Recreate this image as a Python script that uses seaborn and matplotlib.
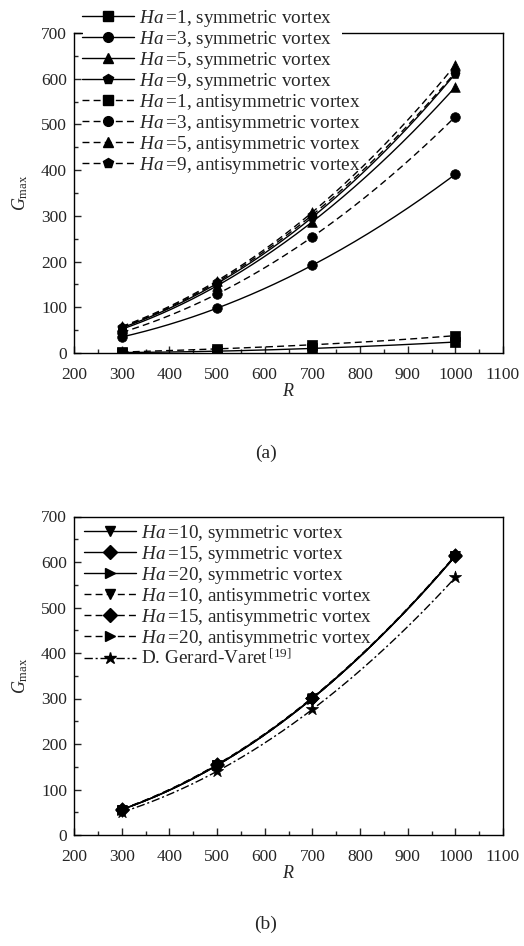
import numpy as np
import pandas as pd
import matplotlib
matplotlib.use("Agg")
import matplotlib.pyplot as plt
from matplotlib.lines import Line2D
from matplotlib.patches import Rectangle
from matplotlib.ticker import MultipleLocator
import seaborn as sns

# ---------------- data ----------------
R = [300, 500, 700, 1000]

# panel (a)
ha_a = ["1", "3", "5", "9"]
sym_a = {
    "1": [1, 4, 10, 24],
    "3": [35, 98, 192, 391],
    "5": [52, 147, 287, 582],
    "9": [55, 152, 297, 611],
}
anti_a = {
    "1": [2, 9, 18, 38],
    "3": [45, 129, 254, 517],
    "5": [58, 158, 308, 630],
    "9": [56, 155, 302, 614],
}
markers_a = {"1": "s", "3": "o", "5": "^", "9": "p"}

# panel (b)
ha_b = ["10", "15", "20"]
sym_b = {
    "10": [56, 153, 300, 613],
    "15": [56, 154, 301, 614],
    "20": [56, 153, 300, 613],
}
anti_b = {
    "10": [56, 154, 301, 614],
    "15": [57, 155, 302, 615],
    "20": [56, 153, 300, 613],
}
markers_b = {"10": "v", "15": "D", "20": ">"}
gerard = [50, 140, 276, 566]

x_ticks = [200, 300, 400, 500, 600, 700, 800, 900, 1000, 1100]
y_ticks = [0, 100, 200, 300, 400, 500, 600, 700]

# ---------------- style ----------------
sns.set_style("ticks")
plt.rcParams["font.family"] = ["Liberation Serif", "DejaVu Serif"]
plt.rcParams["mathtext.fontset"] = "custom"
plt.rcParams["mathtext.rm"] = "Liberation Serif"
plt.rcParams["mathtext.it"] = "Liberation Serif:italic"
plt.rcParams["mathtext.bf"] = "Liberation Serif:bold"
FS = 12.5
LFS = 13.8
CFS = 14

DASH = (0, (5, 3))
DASHDOT = (0, (6, 2, 1.5, 2))

fig = plt.figure(figsize=(5.24, 9.46), dpi=100)
ax1 = fig.add_axes([74 / 524, 1 - 353 / 946, 429 / 524, 320 / 946])
ax2 = fig.add_axes([74 / 524, 1 - 835 / 946, 429 / 524, 318.5 / 946])


def smooth_curve(ax, y, ls):
    xs = np.linspace(R[0], R[-1], 200)
    coef = np.polyfit(R, y, 3)
    ys = np.polyval(coef, xs)
    sns.lineplot(x=xs, y=ys, ax=ax, color="k", linestyle=ls, lw=1.0,
                 legend=False, zorder=3)


def pts(ax, y, m, s=48):
    sns.scatterplot(x=R, y=y, ax=ax, marker=m, s=s, color="k",
                    edgecolor="k", linewidth=0.5, legend=False, zorder=4)


def style_axes(ax):
    ax.set_xlim(200, 1100)
    ax.set_ylim(0, 700)
    ax.set_xticks(x_ticks)
    ax.set_yticks(y_ticks)
    ax.xaxis.set_minor_locator(MultipleLocator(50))
    ax.yaxis.set_minor_locator(MultipleLocator(50))
    ax.tick_params(axis="both", which="major", direction="in", length=5,
                   width=1, labelsize=FS, top=False, right=False)
    ax.tick_params(axis="x", which="major", pad=10)
    ax.tick_params(axis="y", which="major", pad=5)
    ax.tick_params(axis="both", which="minor", direction="in", length=3,
                   width=1, top=False, right=False)
    for sp in ax.spines.values():
        sp.set_visible(True)
        sp.set_linewidth(1.0)
        sp.set_color("k")
    ax.set_xlabel(r"$R$", fontsize=FS + 0.5, labelpad=0)
    ax.set_ylabel(r"$G_{\mathrm{max}}$", fontsize=FS + 0.5, labelpad=8)


# ---- panel (a)
handles_a = []
for ha in ha_a:
    smooth_curve(ax1, sym_a[ha], "-")
    pts(ax1, sym_a[ha], markers_a[ha])
    handles_a.append(Line2D([], [], color="k", ls="-", lw=1.0,
                            marker=markers_a[ha], markersize=7,
                            label=rf"$Ha=\!{ha}$, symmetric vortex"))
for ha in ha_a:
    smooth_curve(ax1, anti_a[ha], DASH)
    pts(ax1, anti_a[ha], markers_a[ha])
    handles_a.append(Line2D([], [], color="k", ls=DASH, lw=1.0,
                            marker=markers_a[ha], markersize=7,
                            label=rf"$Ha=\!{ha}$, antisymmetric vortex"))
style_axes(ax1)
# white band hiding the top spine behind the legend (as in the reference)
ax1.add_patch(Rectangle((83 / 524, 1 - 38 / 946), (342 - 83) / 524, 10 / 946,
                        transform=fig.transFigure, facecolor="white",
                        edgecolor="none", clip_on=False, zorder=2.6))
leg1 = ax1.legend(handles=handles_a, loc="upper left",
                  bbox_to_anchor=(80 / 524, 1 - 6 / 946),
                  bbox_transform=fig.transFigure, fontsize=LFS,
                  frameon=False, borderpad=0.1,
                  labelspacing=0.0, handlelength=2.7, handletextpad=0.3,
                  borderaxespad=0)
leg1.set_zorder(10)

# ---- panel (b)
handles_b = []
for ha in ha_b:
    smooth_curve(ax2, sym_b[ha], "-")
    pts(ax2, sym_b[ha], markers_b[ha])
    handles_b.append(Line2D([], [], color="k", ls="-", lw=1.0,
                            marker=markers_b[ha], markersize=7,
                            label=rf"$Ha=\!{ha}$, symmetric vortex"))
for ha in ha_b:
    smooth_curve(ax2, anti_b[ha], DASH)
    pts(ax2, anti_b[ha], markers_b[ha])
    handles_b.append(Line2D([], [], color="k", ls=DASH, lw=1.0,
                            marker=markers_b[ha], markersize=7,
                            label=rf"$Ha=\!{ha}$, antisymmetric vortex"))
smooth_curve(ax2, gerard, DASHDOT)
pts(ax2, gerard, "*", s=85)
handles_b.append(Line2D([], [], color="k", ls=DASHDOT, lw=1.0,
                        marker="*", markersize=9,
                        label=r"D. Gerard-Varet$\,^{[19]}$"))
style_axes(ax2)
leg2 = ax2.legend(handles=handles_b, loc="upper left",
                  bbox_to_anchor=(82 / 524, 1 - 521 / 946),
                  bbox_transform=fig.transFigure, fontsize=LFS,
                  frameon=False, borderpad=0.1,
                  labelspacing=0.0, handlelength=2.7, handletextpad=0.3,
                  borderaxespad=0)

fig.text(266 / 524, 1 - 453 / 946, "(a)", ha="center", va="center",
         fontsize=CFS)
fig.text(266 / 524, 1 - 924 / 946, "(b)", ha="center", va="center",
         fontsize=CFS)

fig.savefig("out.png", dpi=100, facecolor="white")
